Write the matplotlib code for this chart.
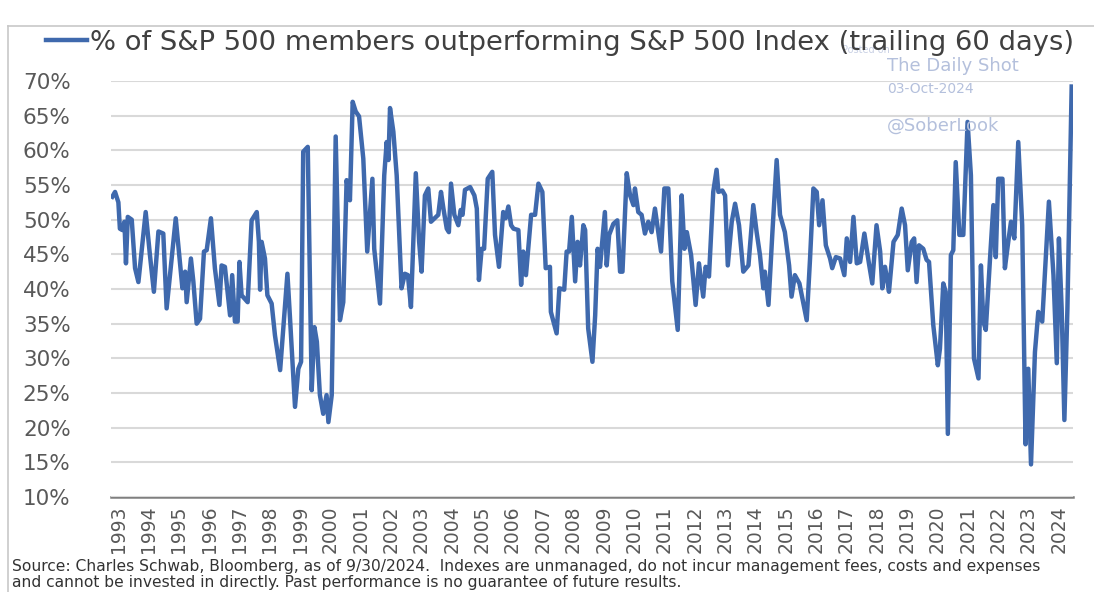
import matplotlib
matplotlib.use("Agg")
import matplotlib.pyplot as plt
from matplotlib.lines import Line2D

# decimal year positions and % of members outperforming
years = [
    1993.01, 1993.10, 1993.21, 1993.26, 1993.34, 1993.41, 1993.46, 1993.52, 1993.65, 1993.76,
    1993.87, 1994.11, 1994.25, 1994.38, 1994.53, 1994.69, 1994.80, 1995.10, 1995.32, 1995.41,
    1995.46, 1995.60, 1995.68, 1995.79, 1995.90, 1996.03, 1996.12, 1996.26, 1996.39, 1996.54,
    1996.61, 1996.72, 1996.89, 1996.96, 1997.05, 1997.14, 1997.20, 1997.27, 1997.47, 1997.60,
    1997.77, 1997.84, 1997.88, 1997.93, 1998.04, 1998.12, 1998.26, 1998.37, 1998.54, 1998.78,
    1998.86, 1999.03, 1999.14, 1999.23, 1999.30, 1999.45, 1999.58, 1999.67, 1999.75, 1999.85,
    1999.96, 2000.07, 2000.13, 2000.24, 2000.37, 2000.51, 2000.62, 2000.73, 2000.84, 2000.93,
    2001.03, 2001.14, 2001.28, 2001.41, 2001.58, 2001.64, 2001.83, 2001.97, 2002.05, 2002.11,
    2002.16, 2002.27, 2002.38, 2002.54, 2002.65, 2002.75, 2002.85, 2003.01, 2003.12, 2003.20,
    2003.31, 2003.42, 2003.51, 2003.63, 2003.75, 2003.84, 2003.92, 2004.03, 2004.10, 2004.17,
    2004.28, 2004.41, 2004.49, 2004.55, 2004.63, 2004.80, 2004.94, 2005.02, 2005.09, 2005.18,
    2005.26, 2005.38, 2005.53, 2005.62, 2005.75, 2005.89, 2005.97, 2006.06, 2006.15, 2006.23,
    2006.39, 2006.48, 2006.55, 2006.64, 2006.81, 2006.94, 2007.05, 2007.18, 2007.29, 2007.43,
    2007.46, 2007.65, 2007.74, 2007.90, 2007.98, 2008.06, 2008.15, 2008.26, 2008.34, 2008.42,
    2008.53, 2008.59, 2008.69, 2008.83, 2008.92, 2009.00, 2009.08, 2009.24, 2009.30, 2009.38,
    2009.52, 2009.65, 2009.74, 2009.82, 2009.96, 2010.07, 2010.18, 2010.23, 2010.34, 2010.45,
    2010.56, 2010.67, 2010.78, 2010.89, 2011.00, 2011.09, 2011.20, 2011.33, 2011.46, 2011.64,
    2011.77, 2011.86, 2011.94, 2012.08, 2012.23, 2012.34, 2012.48, 2012.56, 2012.67, 2012.81,
    2012.92, 2012.98, 2013.11, 2013.20, 2013.29, 2013.42, 2013.53, 2013.66, 2013.80, 2013.97,
    2014.13, 2014.24, 2014.35, 2014.46, 2014.51, 2014.63, 2014.76, 2014.90, 2015.01, 2015.17,
    2015.31, 2015.39, 2015.50, 2015.65, 2015.89, 2016.00, 2016.11, 2016.22, 2016.30, 2016.41,
    2016.52, 2016.66, 2016.73, 2016.85, 2016.99, 2017.13, 2017.21, 2017.32, 2017.43, 2017.54,
    2017.65, 2017.79, 2017.94, 2018.05, 2018.19, 2018.31, 2018.38, 2018.47, 2018.56, 2018.60,
    2018.75, 2018.89, 2019.02, 2019.13, 2019.22, 2019.35, 2019.43, 2019.51, 2019.59, 2019.73,
    2019.84, 2019.92, 2020.06, 2020.21, 2020.28, 2020.39, 2020.47, 2020.54, 2020.64, 2020.72,
    2020.80, 2020.92, 2021.05, 2021.19, 2021.30, 2021.40, 2021.55, 2021.63, 2021.71, 2021.79,
    2021.93, 2022.04, 2022.12, 2022.20, 2022.34, 2022.42, 2022.53, 2022.62, 2022.73, 2022.86,
    2022.99, 2023.10, 2023.19, 2023.28, 2023.41, 2023.52, 2023.65, 2023.87, 2024.02, 2024.13,
    2024.20, 2024.29, 2024.38, 2024.48, 2024.62,
]
pct_outperforming = [
    53.3, 54.0, 52.5, 48.7, 48.5, 49.7, 43.7, 50.4, 50.0, 43.0,
    41.0, 51.1, 44.9, 39.6, 48.3, 48.0, 37.2, 50.2, 40.1, 42.5,
    38.1, 44.4, 41.1, 35.0, 35.7, 45.4, 45.6, 50.2, 43.0, 37.7,
    43.4, 43.2, 36.2, 42.0, 35.3, 35.3, 43.9, 39.1, 38.1, 49.9,
    51.1, 46.8, 39.9, 46.8, 44.4, 39.1, 37.9, 33.3, 28.3, 42.2,
    36.2, 23.0, 28.5, 29.5, 59.8, 60.5, 25.4, 34.5, 32.4, 24.7,
    22.0, 24.7, 20.8, 24.7, 62.0, 35.5, 38.1, 55.7, 52.8, 67.0,
    65.6, 64.9, 58.8, 45.4, 55.9, 45.8, 37.9, 56.4, 61.2, 58.6,
    66.1, 62.7, 56.4, 40.1, 42.2, 42.0, 37.4, 56.7, 46.8, 42.5,
    53.5, 54.5, 49.7, 50.2, 50.7, 54.0, 51.6, 48.7, 48.2, 55.2,
    50.7, 49.2, 51.4, 50.7, 54.3, 54.7, 53.5, 51.6, 41.3, 45.8,
    45.8, 55.9, 56.9, 47.8, 43.2, 51.1, 50.2, 51.9, 49.2, 48.7,
    48.5, 40.6, 45.4, 42.0, 50.7, 50.7, 55.2, 54.0, 43.0, 43.2,
    36.7, 33.6, 40.1, 39.9, 45.4, 45.4, 50.4, 41.1, 46.8, 43.4,
    49.2, 48.5, 34.3, 29.5, 36.2, 45.8, 43.2, 51.1, 43.4, 47.8,
    49.4, 49.9, 42.5, 42.5, 56.7, 53.5, 52.1, 54.5, 51.1, 50.7,
    48.0, 49.7, 48.2, 51.6, 48.2, 45.4, 54.5, 54.5, 41.1, 34.1,
    53.5, 45.8, 48.2, 44.9, 37.7, 43.7, 38.9, 43.2, 41.8, 54.0,
    57.2, 54.0, 54.2, 53.5, 43.4, 49.7, 52.3, 49.2, 42.5, 43.4,
    52.1, 48.2, 44.9, 40.1, 42.5, 37.7, 48.2, 58.6, 50.7, 48.2,
    43.4, 38.9, 42.0, 40.8, 35.5, 44.4, 54.5, 54.0, 49.2, 52.8,
    46.3, 44.4, 43.0, 44.6, 44.4, 42.0, 47.3, 43.9, 50.4, 43.7,
    43.9, 48.0, 43.7, 40.8, 49.2, 45.4, 40.1, 43.2, 40.8, 39.6,
    46.8, 47.8, 51.6, 49.2, 42.7, 46.8, 47.3, 41.0, 46.3, 45.8,
    44.2, 43.9, 34.8, 29.0, 31.4, 40.8, 39.6, 19.1, 44.9, 45.6,
    58.3, 47.8, 47.8, 64.1, 56.4, 30.0, 27.1, 43.4, 35.3, 34.1,
    44.4, 52.1, 44.6, 55.9, 55.9, 43.0, 46.8, 49.7, 47.3, 61.2,
    49.2, 17.6, 28.5, 14.7, 30.9, 36.7, 35.3, 52.6, 42.0, 29.3,
    47.3, 37.2, 21.1, 37.2, 69.2,
]
year_labels = list(range(1993, 2025))
y_ticks = list(range(10, 75, 5))

line_color = "#3f69ad"
W, H = 1094, 592
fig = plt.figure(figsize=(W / 100, H / 100), dpi=100)
ax = fig.add_axes([111 / W, 1 - 497 / H, (1073 - 111) / W, (497 - 81) / H])

ax.plot(years, pct_outperforming, color=line_color, lw=3.2, solid_joinstyle="round",
        label="% of S&P 500 members outperforming S&P 500 Index (trailing 60 days)")

ax.set_ylim(10, 70)
ax.set_xlim(1993.0 - 1 / 30.35, 1993.0 + 961 / 30.35)
ax.set_yticks(y_ticks)
ax.set_yticklabels([f"{t}%" for t in y_ticks])
ax.set_xticks([y + 0.2 for y in year_labels])
ax.set_xticklabels([str(y) for y in year_labels], rotation=90)
ax.tick_params(axis="y", length=0, pad=29, labelsize=15.5, labelcolor="#595959")
ax.tick_params(axis="x", length=0, pad=6, labelsize=13.5, labelcolor="#595959")

ax.grid(axis="y", color="#d9d9d9", lw=1.5)
ax.set_axisbelow(True)
for s in ["top", "left", "right"]:
    ax.spines[s].set_visible(False)
ax.spines["bottom"].set_color("#7f7f7f")
ax.spines["bottom"].set_linewidth(1.8)
ax.spines["bottom"].set_zorder(0.5)

# legend above plot
fig.legend(loc="center left", bbox_to_anchor=(46 / W, 1 - 43 / H), frameon=False,
           fontsize=19.7, handlelength=1.5, handletextpad=0.1, labelcolor="#404040",
           borderaxespad=0, borderpad=0)

# watermark
wm = "#b4c0dc"
fig.text(842 / W, 1 - 50 / H, "Posted on", fontsize=7, color="#c8d0e4", va="center")
fig.text(887 / W, 1 - 66 / H, "The Daily Shot", fontsize=13, color=wm, va="center")
fig.text(887 / W, 1 - 89 / H, "03-Oct-2024", fontsize=10, color=wm, va="center")
fig.text(887 / W, 1 - 126 / H, "@SoberLook", fontsize=13, color=wm, va="center")

# source note
fig.text(12 / W, 1 - 566 / H,
         "Source: Charles Schwab, Bloomberg, as of 9/30/2024.  Indexes are unmanaged, do not incur "
         "management fees, costs and expenses", fontsize=11.2, color="#333333", va="center")
fig.text(12 / W, 1 - 583 / H,
         "and cannot be invested in directly. Past performance is no guarantee of future results.",
         fontsize=11.2, color="#333333", va="center")

# chart frame
fig.add_artist(Line2D([8 / W, 1], [1 - 26 / H, 1 - 26 / H], color="#c8c8c8", lw=1.2))
fig.add_artist(Line2D([8 / W, 8 / W], [0, 1 - 26 / H], color="#c8c8c8", lw=1.2))

fig.savefig("out.png", dpi=100)
